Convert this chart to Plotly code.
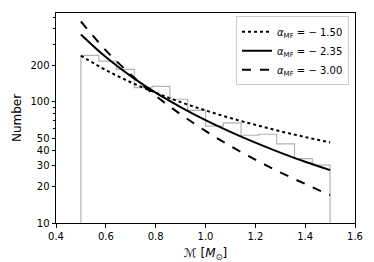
import numpy as np
import plotly.graph_objects as go

# Histogram (step) data
bin_lo = 0.5
bin_hi = 1.5
counts = [242, 217, 185, 131, 134, 105, 85, 63, 67, 53, 54, 45, 34, 30]

# Power-law model curves, values read at sample masses
mass_pts = [0.5, 0.6, 0.7, 0.8, 0.9, 1.0, 1.1, 1.2, 1.3, 1.4, 1.5]
n_a150 = [240, 183, 145, 119, 99.4, 85, 73.5, 64.6, 57.2, 51.2, 46.2]
n_a235 = [360, 234, 163, 119, 90.5, 70.6, 56.5, 46, 38.1, 32, 27.3]
n_a300 = [460, 266, 168, 112, 79, 57.5, 43.2, 33.3, 26.2, 21, 17]

labels = ["<i>α</i><sub>MF</sub> = − 1.50",
          "<i>α</i><sub>MF</sub> = − 2.35",
          "<i>α</i><sub>MF</sub> = − 3.00"]

yticks = [10, 20, 30, 40, 50, 100, 200]
yminor = [60, 70, 80, 90, 300, 400, 500]

edges = np.linspace(bin_lo, bin_hi, len(counts) + 1)
base = 1.0
hx = [edges[0]] + list(edges[:-1]) + [edges[-1], edges[-1]]
hy = [base] + list(counts) + [counts[-1], base]

fig = go.Figure()
fig.add_trace(go.Scatter(x=hx, y=hy, mode="lines", line=dict(color="#b3b3b3", width=1.2, shape="hv"),
                         showlegend=False, hoverinfo="skip"))
for ys, lab, dash in [(n_a150, labels[0], "dot"), (n_a235, labels[1], "solid"), (n_a300, labels[2], "dash")]:
    fig.add_trace(go.Scatter(x=mass_pts, y=ys, mode="lines", name=lab,
                             line=dict(color="black", width=2, dash=dash, shape="spline", smoothing=1.0)))

font = "DejaVu Sans"
fig.update_layout(
    width=374, height=262,
    margin=dict(l=56, r=19, t=13, b=39),
    paper_bgcolor="white", plot_bgcolor="white",
    font=dict(family=font, size=10, color="black"),
    legend=dict(x=0.98, y=0.985, xanchor="right", yanchor="top",
                bgcolor="white", bordercolor="#cccccc", borderwidth=1,
                font=dict(size=10), itemwidth=30, tracegroupgap=0),
)
fig.update_xaxes(range=[0.4, 1.6], dtick=0.2, tick0=0.4, tickformat=".1f", automargin=False,
                 showline=True, linecolor="black", linewidth=1, mirror=True,
                 ticks="outside", ticklen=3.5, tickcolor="black", showgrid=False, zeroline=False,
                 title=dict(text="ℳ [<i>M</i><sub>⊙</sub>]", font=dict(size=12), standoff=11))
fig.update_yaxes(type="log", range=[1, 2.733], tickvals=yticks, ticktext=[str(v) for v in yticks],
                 automargin=False,
                 showline=True, linecolor="black", linewidth=1, mirror=True,
                 ticks="outside", ticklen=3.5, tickcolor="black", showgrid=False, zeroline=False,
                 minor=dict(tickvals=yminor, ticks="outside", ticklen=2, tickcolor="black", showgrid=False),
                 title=dict(text="Number", font=dict(size=12), standoff=6))

fig.write_html("out.html", config={"displayModeBar": False},
               post_script="document.body.style.margin='0';document.body.style.padding='0';")
